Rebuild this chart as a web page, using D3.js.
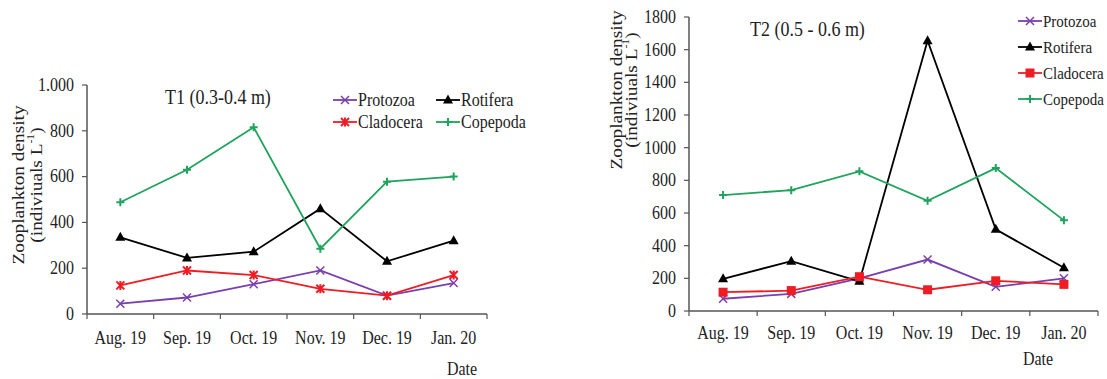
<!DOCTYPE html>
<html><head><meta charset="utf-8">
<script src="https://cdn.jsdelivr.net/npm/d3@7"></script>
<style>
html,body{margin:0;padding:0;background:#fff;}
svg{display:block;}
text{font-family:"Liberation Serif","Times New Roman",serif;fill:#222;}
</style></head>
<body>
<svg id="c" width="1107" height="379"></svg>
<script>
const categories = ["Aug. 19","Sep. 19","Oct. 19","Nov. 19","Dec. 19","Jan. 20"];
const seriesNames = ["Protozoa","Rotifera","Cladocera","Copepoda"];

// T1 (0.3-0.4 m)
const t1Protozoa  = [45, 72, 130, 190, 80, 135];
const t1Rotifera  = [335, 245, 272, 460, 230, 320];
const t1Cladocera = [125, 190, 170, 110, 80, 170];
const t1Copepoda  = [488, 630, 815, 285, 578, 600];
const t1Ticks = [0, 200, 400, 600, 800, 1000];
const t1TickLabels = ["0","200","400","600","800","1.000"];

// T2 (0.5 - 0.6 m)
const t2Protozoa  = [75, 105, 200, 315, 148, 200];
const t2Rotifera  = [197, 305, 182, 1655, 500, 265];
const t2Cladocera = [115, 125, 210, 130, 185, 163];
const t2Copepoda  = [710, 740, 855, 675, 875, 555];
const t2Ticks = [0,200,400,600,800,1000,1200,1400,1600,1800];
const t2TickLabels = t2Ticks.map(String);

const colors = {Protozoa:"#7a3fae", Rotifera:"#000000", Cladocera:"#ee1c24", Copepoda:"#1fa35d"};

const svg = d3.select("#c");
svg.append("rect").attr("width",1107).attr("height",379).attr("fill","#fff");

function marker(g, type, x, y, color){
  const s = 4;
  if(type==="x"){
    g.append("path").attr("d",`M${x-s},${y-s}L${x+s},${y+s}M${x-s},${y+s}L${x+s},${y-s}`)
      .attr("stroke",color).attr("stroke-width",1.5).attr("fill","none");
  } else if(type==="tri"){
    g.append("path").attr("d",`M${x},${y-5.5}L${x+5},${y+3.5}L${x-5},${y+3.5}Z`).attr("fill",color);
  } else if(type==="star"){
    g.append("path").attr("d",`M${x-s},${y-s}L${x+s},${y+s}M${x-s},${y+s}L${x+s},${y-s}M${x},${y-s-0.5}L${x},${y+s+0.5}`)
      .attr("stroke",color).attr("stroke-width",2).attr("fill","none");
  } else if(type==="sq"){
    g.append("rect").attr("x",x-4.5).attr("y",y-4.5).attr("width",9).attr("height",9).attr("fill",color);
  } else if(type==="plus"){
    g.append("path").attr("d",`M${x-s},${y}L${x+s},${y}M${x},${y-s}L${x},${y+s}`)
      .attr("stroke",color).attr("stroke-width",2).attr("fill","none");
  }
}

function stretchedText(g, x, y, txt, size, anchor){
  return g.append("text").attr("transform",`translate(${x},${y}) scale(1,1.15)`)
    .attr("text-anchor",anchor).attr("dominant-baseline","central")
    .attr("font-size",size).text(txt);
}

function drawChart(cfg){
  const g = svg.append("g");
  const x = d3.scaleBand().domain(categories).range([cfg.x0, cfg.x1]).padding(0);
  const y = d3.scaleLinear().domain([0, cfg.ymax]).range([cfg.y0, cfg.y1]);
  const axisColor = "#555";
  // y axis
  g.append("line").attr("x1",cfg.x0).attr("x2",cfg.x0).attr("y1",y(0)).attr("y2",y(cfg.ymax))
    .attr("stroke",axisColor).attr("stroke-width",1.5);
  cfg.ticks.forEach((t,i)=>{
    g.append("line").attr("x1",cfg.x0-5).attr("x2",cfg.x0).attr("y1",y(t)).attr("y2",y(t))
      .attr("stroke",axisColor).attr("stroke-width",1.2);
    stretchedText(g, cfg.x0-13, y(t), cfg.tickLabels[i], 16, "end");
  });
  // x axis
  g.append("line").attr("x1",cfg.x0).attr("x2",cfg.x1).attr("y1",y(0)).attr("y2",y(0))
    .attr("stroke",axisColor).attr("stroke-width",1.5);
  const bounds = categories.map(c=>x(c)).concat([cfg.x1]);
  bounds.forEach(b=>{
    g.append("line").attr("x1",b).attr("x2",b).attr("y1",y(0)).attr("y2",y(0)+5)
      .attr("stroke",axisColor).attr("stroke-width",1.2);
  });
  categories.forEach(c=>{
    stretchedText(g, x(c)+x.bandwidth()/2, cfg.xlabY, c, 16, "middle");
  });
  stretchedText(g, cfg.dateX, cfg.dateY, "Date", 16, "middle");
  // y title
  g.append("text").attr("transform",`translate(${cfg.ytX1},${cfg.ytY}) rotate(-90) scale(1.17,1)`)
    .attr("text-anchor","middle").attr("dominant-baseline","central").attr("font-size",16.5)
    .text("Zooplankton density");
  const t2 = g.append("text").attr("transform",`translate(${cfg.ytX2},${cfg.ytY}) rotate(-90) scale(1.17,1)`)
    .attr("text-anchor","middle").attr("dominant-baseline","central").attr("font-size",16.5);
  t2.append("tspan").text("(indiviuals L");
  t2.append("tspan").attr("baseline-shift","super").attr("font-size",10).text("-1");
  t2.append("tspan").text(")");
  // chart title
  stretchedText(g, cfg.titleX, cfg.titleY, cfg.title, 18, "start");
  // series
  const line = d3.line().x((d,i)=>x(categories[i])+x.bandwidth()/2).y(d=>y(d));
  cfg.series.forEach(s=>{
    g.append("path").datum(s.values).attr("d",line).attr("fill","none")
      .attr("stroke",colors[s.name]).attr("stroke-width",1.8);
  });
  cfg.series.forEach(s=>{
    s.values.forEach((v,i)=>marker(g, s.marker, x(categories[i])+x.bandwidth()/2, y(v), colors[s.name]));
  });
  // legend
  cfg.series.forEach((s,i)=>{
    const p = cfg.legendPos[i];
    g.append("line").attr("x1",p[0]).attr("x2",p[0]+24).attr("y1",p[1]).attr("y2",p[1])
      .attr("stroke",colors[s.name]).attr("stroke-width",1.8);
    marker(g, s.marker, p[0]+12, p[1], colors[s.name]);
    stretchedText(g, p[0]+25, p[1], s.name, cfg.legendSize, "start");
  });
}

drawChart({
  x0:87, x1:487, y0:314, y1:85, ymax:1000,
  ticks:t1Ticks, tickLabels:t1TickLabels,
  xlabY:338, dateX:462, dateY:369,
  ytX1:18, ytX2:36, ytY:185,
  title:"T1 (0.3-0.4 m)", titleX:165, titleY:97,
  series:[
    {name:"Protozoa", values:t1Protozoa, marker:"x"},
    {name:"Rotifera", values:t1Rotifera, marker:"tri"},
    {name:"Cladocera", values:t1Cladocera, marker:"star"},
    {name:"Copepoda", values:t1Copepoda, marker:"plus"}
  ],
  legendSize:16,
  legendPos:[[333,100],[436,100],[333,122],[436,122]]
});

drawChart({
  x0:689, x1:1098, y0:311, y1:17, ymax:1800,
  ticks:t2Ticks, tickLabels:t2TickLabels,
  xlabY:333, dateX:1038, dateY:359,
  ytX1:616, ytX2:631, ytY:90,
  title:"T2 (0.5 - 0.6 m)", titleX:750, titleY:29,
  series:[
    {name:"Protozoa", values:t2Protozoa, marker:"x"},
    {name:"Rotifera", values:t2Rotifera, marker:"tri"},
    {name:"Cladocera", values:t2Cladocera, marker:"sq"},
    {name:"Copepoda", values:t2Copepoda, marker:"plus"}
  ],
  legendSize:15,
  legendPos:[[1018,21],[1018,47],[1018,73],[1018,99]]
});
</script>
</body></html>
